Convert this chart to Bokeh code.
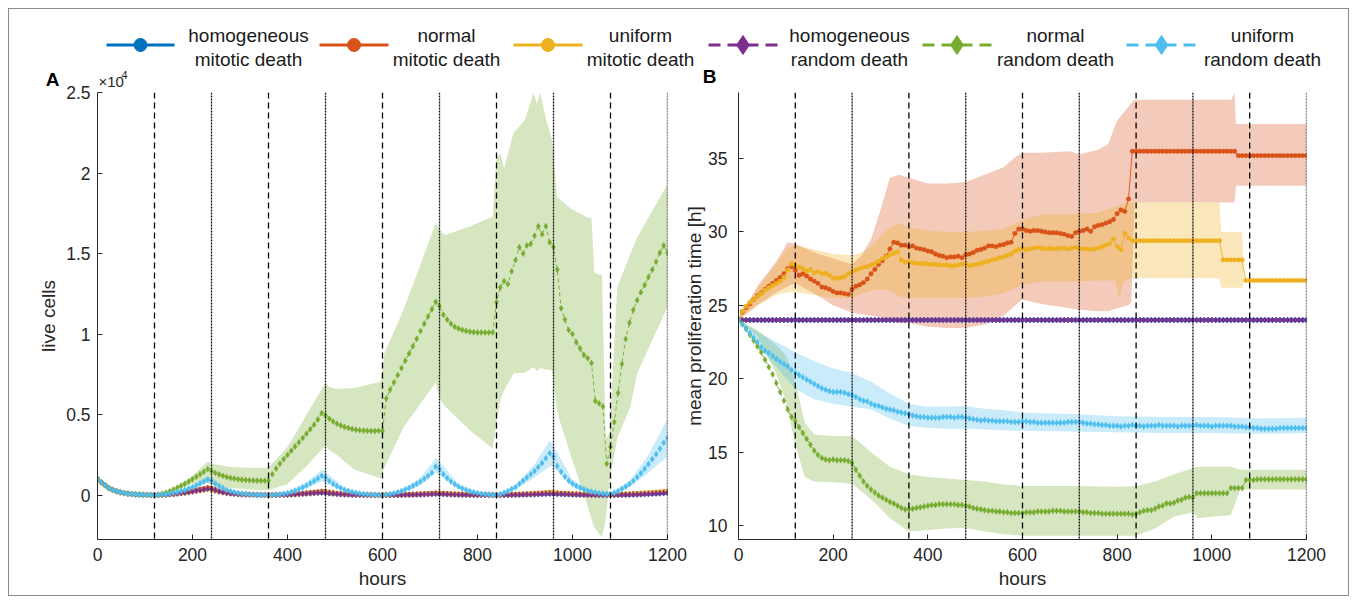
from bokeh.plotting import figure
from bokeh.models import Range1d, Span, FixedTicker
from bokeh.layouts import column, row
from bokeh.embed import file_html
from bokeh.resources import INLINE
from bokeh.core.properties import value

FONT = "Liberation Sans"

# ---------------- data ----------------
T = list(range(0, 1201, 8))          # sampling times (hours)
X_TICKS = [0, 200, 400, 600, 800, 1000, 1200]
A_Y_TICKS = [0, 5000, 10000, 15000, 20000, 25000]
A_Y_LABELS = ["0", "0.5", "1", "1.5", "2", "2.5"]
B_Y_TICKS = [10, 15, 20, 25, 30, 35]
DASHED_T = [120, 360, 600, 840, 1080]
DOTTED_T = [240, 480, 720, 960, 1200]

NAMES = ["homogeneous\nmitotic death", "normal\nmitotic death", "uniform\nmitotic death",
         "homogeneous\nrandom death", "normal\nrandom death", "uniform\nrandom death"]
COLORS = ["#0072BD", "#D95319", "#EDB120", "#7E2F8E", "#77AC30", "#4DBEEE"]

# Panel A: live cells
A_HOM_MIT = [1000, 800, 620, 440, 330, 250, 180, 130, 95, 70, 50, 35, 25, 15, 10, 5,
             10, 22, 38, 58, 80, 105, 135, 165, 200, 240, 280, 320, 360, 410, 390,
             310, 240, 185, 145, 112, 88, 68, 52, 41, 32, 26, 20, 16, 12, 10,
             11, 16, 21, 27, 36, 46, 57, 72, 87, 102, 118, 133, 148, 165, 152,
             122, 101, 82, 66, 52, 41, 32, 26, 21, 16, 13, 10, 8, 7, 6,
             7, 9, 11, 15, 19, 24, 29, 35, 42, 50, 58, 67, 77, 88, 82,
             72, 62, 52, 44, 37, 31, 26, 21, 18, 15, 12, 10, 9, 8, 7,
             9, 13, 17, 21, 26, 31, 37, 44, 52, 60, 68, 77, 87, 97, 92,
             82, 72, 62, 53, 46, 39, 33, 28, 24, 21, 18, 16, 14, 12, 11,
             15, 19, 24, 29, 35, 42, 50, 59, 69, 80, 92, 105, 119, 134, 152]
A_NOR_MIT = [1000, 800, 620, 440, 330, 250, 180, 130, 95, 70, 50, 35, 25, 15, 10, 5,
             10, 25, 40, 60, 85, 115, 150, 185, 225, 270, 320, 370, 420, 470, 430,
             350, 270, 210, 165, 130, 100, 80, 60, 48, 38, 30, 24, 18, 14, 12,
             15, 22, 30, 40, 52, 66, 82, 100, 120, 142, 166, 192, 220, 250, 230,
             190, 155, 125, 100, 80, 64, 50, 40, 32, 25, 20, 16, 13, 10, 9,
             12, 16, 21, 27, 34, 42, 51, 61, 72, 84, 97, 111, 126, 142, 135,
             120, 105, 92, 80, 70, 61, 53, 46, 40, 35, 31, 27, 24, 21, 19,
             24, 30, 37, 45, 54, 64, 75, 87, 100, 114, 129, 145, 162, 180, 170,
             150, 132, 116, 102, 90, 79, 70, 62, 55, 49, 44, 40, 36, 33, 31,
             38, 46, 55, 65, 76, 88, 101, 115, 130, 146, 163, 181, 200, 220, 240]
A_UNI_MIT = [1000, 800, 620, 440, 330, 250, 180, 130, 95, 70, 50, 35, 25, 15, 10, 5,
             8, 18, 30, 45, 65, 88, 115, 145, 180, 215, 255, 295, 335, 370, 340,
             280, 220, 175, 140, 110, 88, 70, 56, 45, 36, 29, 23, 18, 14, 12,
             14, 19, 25, 32, 41, 51, 63, 77, 92, 108, 126, 145, 166, 190, 175,
             145, 120, 98, 80, 65, 53, 43, 35, 28, 23, 19, 16, 13, 11, 10,
             12, 15, 19, 24, 30, 36, 43, 51, 60, 70, 81, 93, 106, 120, 112,
             100, 88, 77, 68, 60, 53, 47, 41, 36, 32, 28, 25, 22, 20, 18,
             22, 27, 33, 40, 48, 57, 67, 78, 90, 103, 117, 132, 148, 165, 155,
             138, 122, 108, 96, 85, 76, 68, 61, 55, 50, 45, 41, 38, 35, 33,
             40, 48, 57, 67, 78, 90, 103, 117, 132, 148, 165, 183, 202, 222, 245]
A_HOM_RND = [1000, 800, 620, 440, 330, 250, 180, 130, 95, 70, 50, 35, 25, 15, 10, 5,
             10, 20, 35, 55, 75, 100, 130, 160, 190, 230, 270, 310, 350, 400, 380,
             300, 230, 180, 140, 110, 85, 65, 50, 40, 30, 25, 20, 15, 10, 10,
             10, 15, 20, 25, 35, 45, 55, 70, 85, 100, 115, 130, 145, 160, 150,
             120, 100, 80, 65, 50, 40, 30, 25, 20, 15, 12, 10, 8, 6, 5,
             6, 8, 10, 14, 18, 23, 28, 34, 40, 48, 56, 65, 75, 85, 80,
             70, 60, 50, 42, 35, 30, 25, 20, 17, 14, 12, 10, 8, 7, 6,
             8, 12, 16, 20, 25, 30, 36, 42, 50, 58, 66, 75, 85, 95, 90,
             80, 70, 60, 52, 45, 38, 32, 27, 23, 20, 17, 15, 13, 11, 10,
             14, 18, 23, 28, 34, 41, 49, 58, 68, 79, 91, 104, 118, 133, 150]
A_NOR_RND = [1000, 800, 620, 440, 330, 250, 180, 130, 95, 70, 50, 35, 25, 15, 10, 5,
             40, 90, 160, 250, 350, 460, 580, 710, 850, 990, 1140, 1300, 1460, 1620, 1500,
             1380, 1280, 1200, 1130, 1070, 1030, 990, 960, 940, 925, 915, 905, 900, 895, 900,
             1300, 1650, 1950, 2230, 2500, 2760, 3020, 3280, 3550, 3820, 4100, 4380, 4700, 5100, 4950,
             4750, 4580, 4440, 4330, 4240, 4170, 4110, 4060, 4030, 4010, 4000, 3990, 3990, 4000, 4000,
             6000, 6550, 7000, 7450, 7900, 8350, 8800, 9250, 9700, 10200, 10650, 11100, 11550, 12000, 11750,
             11200, 10900, 10650, 10450, 10350, 10250, 10200, 10150, 10120, 10100, 10100, 10100, 10100, 10100,
             12000,
             12900, 13300, 13100, 13900, 14600, 15400, 15000, 15500, 15600, 16100, 16700, 16200, 16700, 15700, 15400,
             14000, 11600, 10900, 10250, 10000, 9500, 9100, 8700, 8500, 8200, 5850, 5700, 5500, 1950, 3000,
             4550, 6350, 8150, 9700, 10700, 11500, 12100, 12600, 13050, 13550, 14000, 14500, 15050, 15500, 15050]
A_UNI_RND = [1000, 800, 620, 440, 330, 250, 180, 130, 95, 70, 50, 35, 25, 15, 10, 5,
             10, 30, 60, 100, 150, 200, 260, 330, 410, 500, 600, 720, 850, 980, 900,
             700, 550, 430, 330, 250, 190, 140, 100, 70, 50, 35, 25, 15, 10, 5,
             10, 25, 50, 90, 140, 200, 280, 370, 480, 600, 740, 880, 1030, 1200, 1100,
             880, 700, 560, 440, 340, 260, 200, 150, 110, 80, 55, 40, 25, 15, 10,
             30, 70, 120, 180, 260, 350, 450, 570, 700, 850, 1020, 1200, 1400, 1780, 1620,
             1300, 1050, 850, 680, 540, 420, 320, 240, 180, 130, 90, 60, 40, 25, 15,
             60, 150, 250, 370, 500, 700, 900, 1100, 1300, 1500, 1750, 2000, 2300, 2600, 2400,
             1800, 1450, 1150, 900, 720, 570, 450, 350, 280, 220, 170, 130, 100, 80, 80,
             150, 250, 380, 530, 700, 900, 1120, 1370, 1640, 1930, 2230, 2550, 2880, 3250, 3550]

# Panel A bands (normal random death, uniform random death)
A_NR_BAND_T = [0, 40, 80, 120, 160, 200, 232, 240, 280, 320, 360, 400, 440, 480, 488, 504, 540, 596, 604, 644,
               680, 712, 720, 732, 785, 832, 840, 848, 856, 876, 900, 918, 925, 932, 945, 957, 968, 996, 1030, 1040,
               1046, 1062, 1070, 1078, 1094, 1122, 1136, 1200]
A_NR_BAND_HI = [1000, 290, 70, 10, 450, 1200, 2100, 1950, 1750, 1700, 1700, 3000, 5000, 7000, 6700, 6600, 6650, 7050, 8800, 11500,
                14300, 16900, 16500, 16150, 16700, 17300, 21000, 21200, 20300, 22500, 23300, 25000, 24300, 25000, 23300, 22000, 18500, 17800, 17250, 17200,
                13800, 13650, 3500, 3800, 12900, 15000, 16000, 19300]
A_NR_BAND_LO = [1000, 270, 60, 0, 250, 700, 750, 650, 450, 350, 300, 700, 1800, 3100, 2800, 2500, 1600, 1050, 1700, 4200,
                5700, 7000, 6000, 5500, 4000, 2900, 4450, 5900, 6500, 7550, 7600, 7950, 7700, 7900, 7800, 7750, 5100, 2500, -500, -1500,
                -2000, -2600, -1500, 900, 3500, 5500, 7550, 11700]
A_UR_BAND_T = [0, 40, 80, 120, 160, 200, 232, 240, 280, 320, 360, 400, 440, 472, 480, 520, 560, 600, 640, 680,
               712, 720, 760, 800, 840, 880, 920, 952, 960, 1000, 1040, 1080, 1120, 1160, 1200]
A_UR_BAND_HI = [1000, 290, 60, 15, 190, 620, 1150, 1080, 330, 80, 20, 190, 800, 1600, 1450, 450, 120, 30, 340, 1100,
                2300, 2100, 700, 200, 40, 650, 1900, 3400, 3100, 950, 300, 150, 900, 2500, 4750]
A_UR_BAND_LO = [1000, 270, 40, 0, 110, 330, 800, 720, 170, 20, 0, 90, 430, 850, 780, 230, 40, 0, 170, 600,
                1400, 1250, 380, 60, 0, 350, 1100, 1800, 1750, 500, 150, 20, 500, 1400, 2400]

# Panel B: mean proliferation time [h]
B_HOM_MIT = [24.0] * 151
B_NOR_MIT = [24.0, 24.55, 24.85, 25.1, 25.4, 25.65, 25.85, 26.1, 26.3, 26.5,
             26.7, 26.9, 27.15, 27.5, 27.65, 27.4, 27.05, 27.15, 27.0, 26.8,
             26.65, 26.5, 26.25, 26.2, 26.1, 25.95, 25.85, 25.85, 25.8, 25.75,
             26.1, 26.3, 26.4, 26.55, 26.8, 27.15, 27.45, 27.8, 28.05, 28.35,
             28.85, 29.3, 29.25, 29.1, 29.1, 29.0, 29.05, 28.9, 28.85, 28.8,
             28.7, 28.65, 28.5, 28.4, 28.35, 28.25, 28.3, 28.3, 28.35, 28.25,
             28.45, 28.5, 28.6, 28.75, 28.8, 28.9, 29.05, 29.05, 29.0, 29.1,
             29.15, 29.25, 29.3, 29.9, 30.2, 30.2, 30.1, 30.05, 30.1, 30.1,
             30.05, 30.0, 29.95, 29.95, 29.95, 29.9, 29.85, 29.75, 29.7, 29.95,
             30.05, 30.1, 30.2, 30.05, 30.35, 30.45, 30.5, 30.6, 30.7, 30.85,
             31.25, 31.5, 31.4, 32.25, 35.5] + [35.5] * 27 + [35.2] * 19
B_UNI_MIT = [24.0, 24.6, 24.95, 25.2, 25.4, 25.6, 25.8, 26.05, 26.2, 26.35,
             26.5, 26.65, 26.9, 27.4, 27.85, 27.75, 27.6, 27.5, 27.35, 27.45,
             27.2, 27.3, 27.15, 27.2, 27.05, 26.85, 26.85, 26.9, 26.95, 27.15,
             27.3, 27.4, 27.5, 27.6, 27.65, 27.75, 27.85, 28.0, 28.2, 28.3,
             28.45, 28.55, 28.65, 28.1, 27.95, 27.95, 27.9, 27.85, 27.85, 27.85,
             27.8, 27.8, 27.8, 27.75, 27.75, 27.75, 27.7, 27.7, 27.75, 27.8,
             27.8, 27.7, 27.75, 27.8, 27.85, 27.95, 28.0, 28.1, 28.15, 28.25,
             28.3, 28.4, 28.5, 28.7, 28.8, 28.85, 28.8, 28.85, 28.9, 28.95,
             28.9, 28.85, 28.9, 28.85, 28.85, 28.9, 28.9, 28.85, 28.9, 28.95,
             28.9, 28.85, 28.85, 28.8, 28.85, 28.9, 29.0, 29.1, 29.2, 29.5,
             29.0, 28.8, 29.9, 29.6] + [29.4] * 24 + [28.1] * 6 + [26.7] * 17
B_HOM_RND = [24.0] * 151
B_NOR_RND = [24.0, 23.75, 23.4, 23.0, 22.6, 22.2, 21.8, 21.3, 20.8, 20.3,
             19.7, 19.1, 18.5, 17.9, 17.4, 17.1, 16.7, 16.3, 15.9, 15.5,
             15.1, 14.8, 14.6, 14.5, 14.45, 14.5, 14.45, 14.45, 14.45, 14.4,
             14.25, 13.8, 13.4, 13.0, 12.7, 12.45, 12.25, 12.05, 11.9, 11.75,
             11.6, 11.5, 11.35, 11.2, 11.1, 11.1, 11.15, 11.2, 11.25, 11.3,
             11.35, 11.4, 11.4, 11.45, 11.45, 11.45, 11.45, 11.45, 11.4, 11.4,
             11.35, 11.3, 11.2, 11.15, 11.1, 11.05, 11.0, 11.0, 10.95, 10.95,
             10.9, 10.9, 10.85, 10.85, 10.85, 10.85, 10.9, 10.9, 10.9, 10.95,
             10.95, 10.95, 10.95, 11.0, 11.0, 11.0, 10.95, 10.95, 10.95, 10.95,
             10.95, 10.9, 10.9, 10.85, 10.85, 10.85, 10.8, 10.8, 10.8, 10.8,
             10.8, 10.8, 10.8, 10.8, 10.75, 10.8, 10.9, 11.0, 11.05, 11.05,
             11.15, 11.3, 11.35, 11.5, 11.5, 11.55, 11.7, 11.75, 11.9, 11.95,
             11.9, 12.2, 12.2, 12.2, 12.2, 12.2, 12.2, 12.2, 12.2, 12.2,
             12.55, 12.55, 12.55, 12.55, 13.1, 13.1, 13.1, 13.15, 13.15, 13.15,
             13.15, 13.15, 13.15, 13.15, 13.15, 13.15, 13.15, 13.15, 13.15, 13.15,
             13.15]
B_UNI_RND = [24.0, 23.7, 23.4, 23.1, 22.8, 22.5, 22.15, 21.9, 21.75, 21.55,
             21.35, 21.15, 21.0, 20.85, 20.6, 20.4, 20.25, 20.1, 19.95, 19.8,
             19.65, 19.5, 19.35, 19.25, 19.15, 19.1, 19.1, 19.1, 19.05, 18.95,
             18.9, 18.75, 18.6, 18.5, 18.45, 18.3, 18.2, 18.15, 18.05, 17.95,
             17.9, 17.85, 17.75, 17.7, 17.65, 17.6, 17.5, 17.45, 17.4, 17.4,
             17.35, 17.35, 17.35, 17.35, 17.4, 17.4, 17.4, 17.35, 17.4, 17.4,
             17.35, 17.3, 17.25, 17.2, 17.15, 17.2, 17.15, 17.15, 17.1, 17.1,
             17.1, 17.1, 17.05, 17.05, 17.05, 17.1, 17.1, 17.05, 17.05, 17.0,
             17.0, 17.0, 17.0, 17.0, 17.0, 17.0, 17.0, 17.05, 17.05, 17.05,
             17.05, 17.0, 16.95, 16.95, 16.9, 16.9, 16.85, 16.85, 16.8, 16.8,
             16.8, 16.75, 16.8, 16.8, 16.85, 16.8, 16.8, 16.75, 16.8, 16.8,
             16.8, 16.85, 16.8, 16.8, 16.8, 16.8, 16.75, 16.8, 16.8, 16.8,
             16.8, 16.85, 16.8, 16.8, 16.8, 16.75, 16.8, 16.8, 16.8, 16.8,
             16.8, 16.75, 16.75, 16.75, 16.7, 16.7, 16.65, 16.65, 16.6, 16.6,
             16.6, 16.6, 16.6, 16.65, 16.65, 16.65, 16.65, 16.65, 16.65, 16.65,
             16.65]

# Panel B bands
B_NM_BAND_T = [0, 40, 80, 104, 120, 160, 200, 240, 260, 280, 300, 320, 340, 360, 400, 440, 480, 520, 560, 585,
               600, 640, 700, 720, 760, 781, 800, 823, 830, 837, 1041, 1048, 1051, 1200]
B_NM_BAND_HI = [24.0, 26.3, 28.0, 29.3, 29.2, 28.6, 28.2, 27.8, 28.4, 29.5, 31.5, 33.7, 33.9, 33.7, 33.3, 33.3, 33.4, 33.9, 34.4, 35.1,
                35.4, 35.4, 35.5, 35.3, 35.6, 36.0, 37.6, 38.5, 38.8, 39.0, 39.0, 39.5, 37.35, 37.35]
B_NM_BAND_LO = [24.0, 25.0, 25.9, 26.3, 26.5, 25.8, 25.0, 24.5, 24.4, 24.3, 24.2, 24.0, 23.8, 23.8, 23.55, 23.45, 23.45, 23.7, 24.3, 25.0,
                25.4, 25.1, 24.8, 24.7, 24.6, 24.6, 24.8, 25.0, 25.2, 32.0, 32.0, 32.0, 33.15, 33.15]
B_UM_BAND_T = [0, 40, 80, 104, 120, 160, 200, 240, 260, 280, 300, 320, 340, 360, 400, 440, 480, 520, 560, 600,
               640, 700, 760, 795, 805, 812, 825, 832, 1016, 1020, 1064, 1068]
B_UM_BAND_HI = [24.0, 26.2, 27.8, 28.9, 29.1, 28.8, 28.5, 28.4, 28.6, 29.0, 29.7, 30.3, 30.6, 30.3, 30.1, 30.0, 30.0, 30.1, 30.2, 30.8,
                31.2, 31.2, 31.3, 31.7, 31.8, 31.9, 32.0, 32.0, 32.0, 30.0, 30.0, 26.7]
B_UM_BAND_LO = [24.0, 25.0, 25.7, 25.9, 25.9, 25.7, 25.5, 25.5, 25.8, 26.0, 26.1, 26.0, 25.6, 25.5, 25.5, 25.5, 25.5, 25.6, 25.8, 26.4,
                26.6, 26.6, 26.7, 26.7, 25.4, 26.5, 26.8, 26.85, 26.85, 26.2, 26.2, 26.7]
B_NR_BAND_T = [0, 40, 80, 100, 120, 140, 160, 200, 240, 280, 320, 360, 400, 440, 480, 520, 560, 600, 700, 800,
               840, 880, 920, 960, 970, 1000, 1040, 1060, 1070, 1200]
B_NR_BAND_HI = [24.0, 23.3, 22.3, 21.6, 19.8, 17.0, 16.2, 16.1, 16.1, 15.0, 14.0, 13.5, 13.3, 13.2, 13.1, 13.0, 12.8, 12.7, 12.7, 12.65,
                12.7, 13.0, 13.5, 13.9, 14.0, 14.0, 14.0, 13.8, 13.8, 13.8]
B_NR_BAND_LO = [24.0, 22.9, 20.3, 18.5, 15.5, 13.3, 13.0, 12.95, 12.85, 11.8, 10.5, 9.6, 9.7, 9.8, 9.85, 9.6, 9.4, 9.3, 9.3, 9.3,
                9.3, 9.8, 10.6, 10.9, 10.5, 10.6, 10.7, 12.45, 12.45, 12.45]
B_UR_BAND_T = [0, 40, 80, 120, 160, 200, 240, 280, 320, 360, 400, 440, 480, 520, 560, 600, 700, 800, 900, 1000, 1100, 1200]
B_UR_BAND_HI = [24.0, 23.2, 22.5, 21.8, 21.2, 20.7, 20.4, 19.8, 19.0, 18.3, 18.1, 18.1, 18.15, 17.95, 17.85, 17.7, 17.6, 17.45, 17.4, 17.4, 17.3, 17.35]
B_UR_BAND_LO = [24.0, 22.2, 20.8, 19.3, 18.6, 18.3, 18.1, 17.9, 17.3, 16.8, 16.65, 16.6, 16.6, 16.55, 16.5, 16.45, 16.4, 16.35, 16.3, 16.3, 16.25, 16.3]

# ---------------- helpers ----------------
AX_COL = "#262626"


def style_axes(p, yticks, overrides=None, ylabel=None, ylab_standoff=7, ylab_label_standoff=4):
    p.grid.visible = False
    p.outline_line_color = None
    p.background_fill_color = "white"
    p.border_fill_color = None
    p.xaxis.ticker = FixedTicker(ticks=X_TICKS)
    p.yaxis.ticker = FixedTicker(ticks=yticks)
    if overrides:
        p.yaxis.major_label_overrides = overrides
    for ax in (p.xaxis[0], p.yaxis[0]):
        ax.axis_line_color = AX_COL
        ax.axis_line_width = 1
        ax.major_tick_line_color = AX_COL
        ax.major_tick_in = 5
        ax.major_tick_out = 0
        ax.minor_tick_line_color = None
        ax.major_label_text_font = FONT
        ax.major_label_text_font_size = "17.5px"
        ax.major_label_text_color = AX_COL
        ax.axis_label_text_font = FONT
        ax.axis_label_text_font_size = "19px"
        ax.axis_label_text_font_style = "normal"
        ax.axis_label_text_color = AX_COL
    p.xaxis.axis_label = "hours"
    p.xaxis.major_label_standoff = 8
    p.xaxis.axis_label_standoff = 4
    p.yaxis.major_label_standoff = ylab_standoff
    p.yaxis.axis_label_standoff = ylab_label_standoff
    if ylabel:
        p.yaxis.axis_label = ylabel


def add_vlines(p):
    for t in DASHED_T:
        p.add_layout(Span(location=t, dimension="height", line_color="#000000",
                          line_dash="6 4", line_width=1.3))
    for t in DOTTED_T:
        p.add_layout(Span(location=t, dimension="height", line_color="#111111",
                          line_dash="2 1", line_width=1.3))


def add_series(p, ys, idx):
    c = COLORS[idx]
    if idx < 3:
        p.line(T, ys, line_color=c, line_width=0.9)
        p.scatter(T, ys, marker="circle", size=4.4, fill_color=c, line_color=c, line_width=0.5)
    else:
        p.line(T, ys, line_color=c, line_width=0.9, line_dash="4 3")
        p.scatter(T, ys, marker="diamond", size=6, fill_color=c, line_color=c, line_width=0.5)


def add_band(p, t, lo, hi, idx):
    p.varea(x=t, y1=lo, y2=hi, fill_color=COLORS[idx], fill_alpha=0.3)


# ---------------- header strip: legend + panel letters ----------------
# page coordinates (pixels) inside the strip
leg = figure(width=1339, height=83, x_range=Range1d(9, 1348), y_range=Range1d(92, 9),
             output_backend="svg", toolbar_location=None, min_border=0)
leg.axis.visible = False
leg.grid.visible = False
leg.outline_line_color = None
leg.background_fill_color = "white"
leg.border_fill_color = "white"

LEG_X0 = [106, 319, 513, 708, 922, 1126]
LEG_X1 = [174, 388, 582, 777, 991, 1196]
LEG_TX = [248, 446, 640, 849, 1055, 1262]
LEG_LINE_Y = 44.5
LEG_TEXT_Y = 47
for i in range(6):
    c = COLORS[i]
    xs = [LEG_X0[i], LEG_X1[i]]
    ys = [LEG_LINE_Y, LEG_LINE_Y]
    xm = (LEG_X0[i] + LEG_X1[i]) / 2
    if i < 3:
        leg.line(xs, ys, line_color=c, line_width=3)
        leg.scatter([xm], [LEG_LINE_Y], marker="circle", size=13, fill_color=c, line_color=c)
    else:
        leg.line(xs, ys, line_color=c, line_width=3, line_dash="12 7")
        leg.scatter([xm], [LEG_LINE_Y], marker="diamond", size=19, fill_color=c, line_color=c)
leg.text(x=LEG_TX, y=[LEG_TEXT_Y] * 6, text=NAMES, text_font=value(FONT), text_font_size="19px",
         text_align="center", text_baseline="middle", text_color="#1a1a1a", text_line_height=1.15)
# panel letters and exponent
leg.text(x=[52, 709], y=[79, 76], text=["A", "B"], text_font=value(FONT), text_font_size="19px",
         text_font_style="bold", text_align="center", text_baseline="middle", text_color="#000000")
leg.text(x=[98], y=[80.5], text=["×10"], text_font=value(FONT), text_font_size="15px",
         text_align="left", text_baseline="middle", text_color=AX_COL)
leg.text(x=[121], y=[74], text=["4"], text_font=value(FONT), text_font_size="11px",
         text_align="left", text_baseline="middle", text_color=AX_COL)

# ---------------- panel A ----------------
pA = figure(width=679, height=529, x_range=Range1d(0, 1200), y_range=Range1d(-2750, 25000),
            output_backend="svg", toolbar_location=None,
            min_border_left=88, min_border_right=21, min_border_top=26, min_border_bottom=56)
style_axes(pA, A_Y_TICKS, dict(zip(A_Y_TICKS, A_Y_LABELS)), ylabel="live cells")
add_band(pA, A_NR_BAND_T, A_NR_BAND_LO, A_NR_BAND_HI, 4)
add_band(pA, A_UR_BAND_T, A_UR_BAND_LO, A_UR_BAND_HI, 5)
for i, ys in enumerate([A_HOM_MIT, A_NOR_MIT, A_UNI_MIT, A_HOM_RND, A_NOR_RND, A_UNI_RND]):
    add_series(pA, ys, i)
add_vlines(pA)

# ---------------- panel B ----------------
pB = figure(width=667, height=529, x_range=Range1d(0, 1200), y_range=Range1d(9.05, 39.5),
            output_backend="svg", toolbar_location=None, margin=(0, 0, 0, -7),
            min_border_left=55, min_border_right=42, min_border_top=24, min_border_bottom=56)
style_axes(pB, B_Y_TICKS, ylabel="mean proliferation time [h]", ylab_standoff=11, ylab_label_standoff=0)
add_band(pB, B_NM_BAND_T, B_NM_BAND_LO, B_NM_BAND_HI, 1)
add_band(pB, B_UM_BAND_T, B_UM_BAND_LO, B_UM_BAND_HI, 2)
add_band(pB, B_NR_BAND_T, B_NR_BAND_LO, B_NR_BAND_HI, 4)
add_band(pB, B_UR_BAND_T, B_UR_BAND_LO, B_UR_BAND_HI, 5)
for i, ys in enumerate([B_HOM_MIT, B_NOR_MIT, B_UNI_MIT, B_HOM_RND, B_NOR_RND, B_UNI_RND]):
    add_series(pB, ys, i)
add_vlines(pB)

panels = row(pA, pB, margin=(-26, 0, 0, 0))
layout = column(leg, panels, margin=(8, 0, 0, 8), styles={"border": "1px solid #8a8a8a"})

open("out.html", "w").write(file_html(layout, INLINE))
